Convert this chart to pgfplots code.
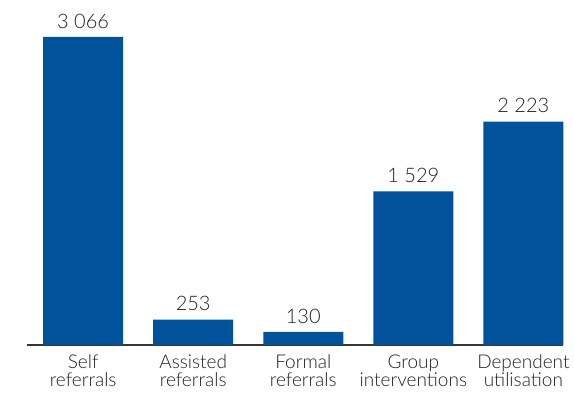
\documentclass[border=0pt]{standalone}
\usepackage{pgfplots}
\pgfplotsset{compat=1.18}
\usepackage{fontspec}
\setmainfont{Lato}[UprightFont=* Light]
\definecolor{barblue}{HTML}{00529B}
\definecolor{txt}{HTML}{231F20}
\begin{document}
\begin{tikzpicture}
\begin{axis}[
  scale only axis,
  width=536pt, height=345pt,
  xmin=-0.51, xmax=4.36,
  ymin=0, ymax=3434,
  axis x line*=bottom,
  axis y line=none,
  x axis line style={line width=1.3pt, color=txt!90, -},
  xtick=data,
  xticklabels={{Self\\referrals},{Assisted\\referrals},{Formal\\referrals},{Group\\interventions},{Dependent\\utilisation}},
  xticklabel style={align=center, font=\fontsize{19}{18}\selectfont, text=txt, yshift=-8.5pt, inner sep=1pt},
  major tick length=0pt,
  ybar, bar width=80pt,
  nodes near coords,
  every node near coord/.append style={font=\fontsize{20}{22}\selectfont, text=txt, yshift=5pt},
  /pgf/number format/assume math mode=true,
  /pgf/number format/1000 sep={\ },
  clip=false,
]
\addplot[fill=barblue, draw=none] coordinates {(0,3066) (1,253) (2,130) (3,1529) (4,2223)};
\end{axis}
\pgfresetboundingbox
\useasboundingbox ([shift={(-27pt,-48pt)}]current axis.south west) rectangle ([shift={(547pt,345pt)}]current axis.south west);
\end{tikzpicture}
\end{document}
